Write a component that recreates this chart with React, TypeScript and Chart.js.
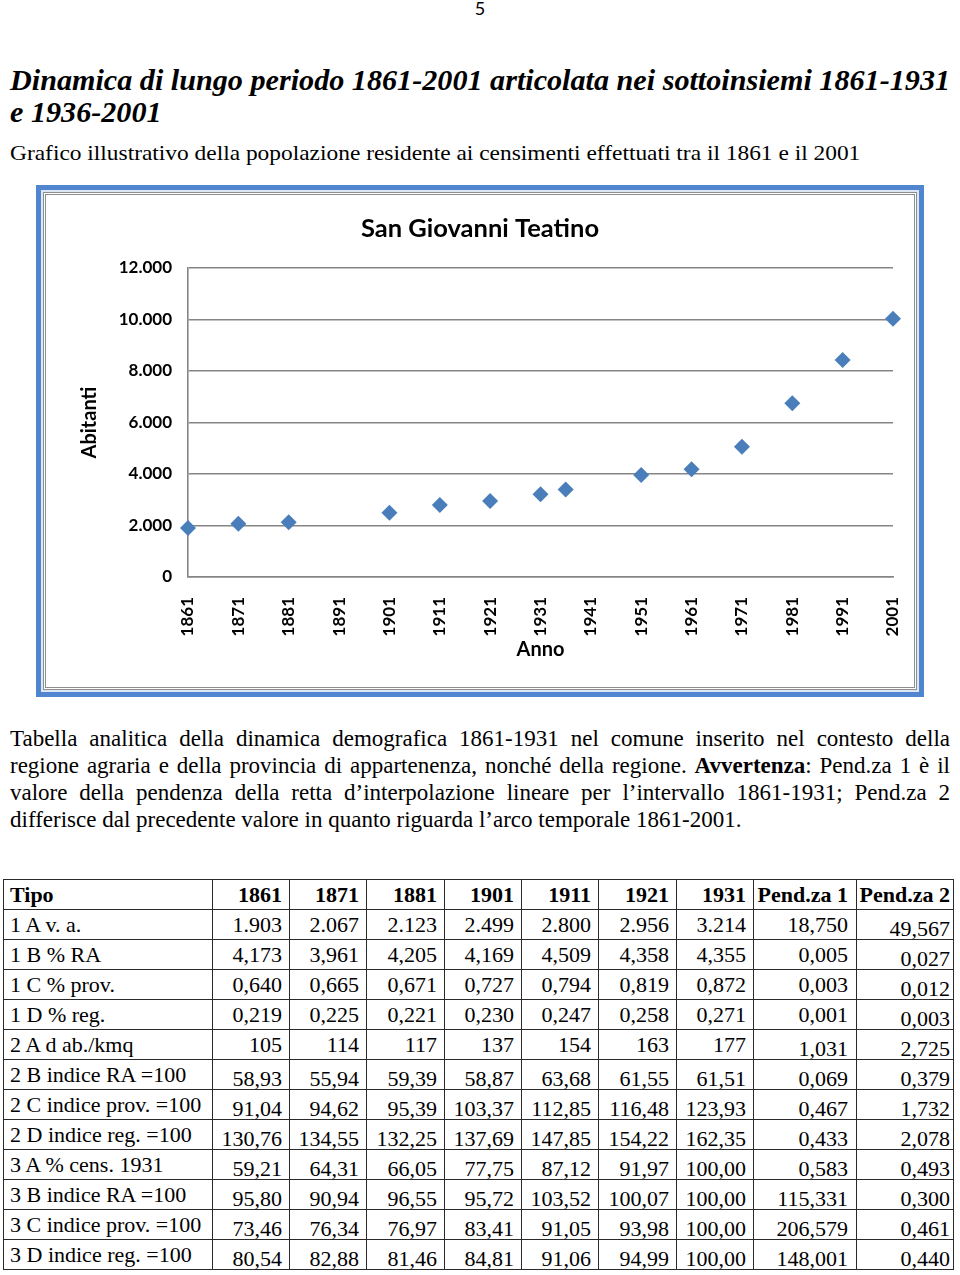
import React, { useEffect, useLayoutEffect, useRef, useState } from 'react';
import { Chart, registerables } from 'chart.js';

Chart.register(...registerables);

// ---------- chart data ----------
const censusYears = [1861, 1871, 1881, 1901, 1911, 1921, 1931, 1936, 1951, 1961, 1971, 1981, 1991, 2001];
const residents = [1903, 2067, 2123, 2499, 2800, 2956, 3214, 3400, 3960, 4180, 5060, 6750, 8430, 10030];
const xTickYears = [1861, 1871, 1881, 1891, 1901, 1911, 1921, 1931, 1941, 1951, 1961, 1971, 1981, 1991, 2001];
const yTickValues = [0, 2000, 4000, 6000, 8000, 10000, 12000];
const chartTitle = 'San Giovanni Teatino';
const xTitle = 'Anno';
const yTitle = 'Abitanti';

// ---------- table data ----------
const tableHeader = ['Tipo', '1861', '1871', '1881', '1901', '1911', '1921', '1931', 'Pend.za 1', 'Pend.za 2'];
const rowLabels = [
  '1 A v. a.', '1 B % RA', '1 C % prov.', '1 D % reg.', '2 A d ab./kmq',
  '2 B indice RA =100', '2 C indice prov. =100', '2 D indice reg. =100',
  '3 A % cens. 1931', '3 B indice RA =100', '3 C indice prov. =100', '3 D indice reg. =100',
];
const row1A = ['1.903', '2.067', '2.123', '2.499', '2.800', '2.956', '3.214', '18,750', '49,567'];
const row1B = ['4,173', '3,961', '4,205', '4,169', '4,509', '4,358', '4,355', '0,005', '0,027'];
const row1C = ['0,640', '0,665', '0,671', '0,727', '0,794', '0,819', '0,872', '0,003', '0,012'];
const row1D = ['0,219', '0,225', '0,221', '0,230', '0,247', '0,258', '0,271', '0,001', '0,003'];
const row2A = ['105', '114', '117', '137', '154', '163', '177', '1,031', '2,725'];
const row2B = ['58,93', '55,94', '59,39', '58,87', '63,68', '61,55', '61,51', '0,069', '0,379'];
const row2C = ['91,04', '94,62', '95,39', '103,37', '112,85', '116,48', '123,93', '0,467', '1,732'];
const row2D = ['130,76', '134,55', '132,25', '137,69', '147,85', '154,22', '162,35', '0,433', '2,078'];
const row3A = ['59,21', '64,31', '66,05', '77,75', '87,12', '91,97', '100,00', '0,583', '0,493'];
const row3B = ['95,80', '90,94', '96,55', '95,72', '103,52', '100,07', '100,00', '115,331', '0,300'];
const row3C = ['73,46', '76,34', '76,97', '83,41', '91,05', '93,98', '100,00', '206,579', '0,461'];
const row3D = ['80,54', '82,88', '81,46', '84,81', '91,06', '94,99', '100,00', '148,001', '0,440'];
const tableRows = [row1A, row1B, row1C, row1D, row2A, row2B, row2C, row2D, row3A, row3B, row3C, row3D];

// layout helpers (styling only)
const colWidths = [209, 77, 77, 78, 77, 77, 78, 77, 103, 97];
const colPadRight = [0, 7, 7, 7, 7, 7, 7, 7, 8, 3];
const lowFromCol = [9, 9, 9, 9, 8, 1, 1, 1, 1, 1, 1, 1];

const fmtIt = (v: number) => String(v).replace(/\B(?=(\d{3})+(?!\d))/g, '.');

const SERIF = '"Liberation Serif", "Times New Roman", serif';
const SANS = 'Lato, "Open Sans", sans-serif';

function ChartBox() {
  const ref = useRef<HTMLCanvasElement | null>(null);
  useEffect(() => {
    if (!ref.current) return;
    const tickFont = { family: SANS, size: 17, weight: 'bold' as const };
    const titleFont = { family: SANS, size: 20, weight: 'bold' as const };
    const chart = new Chart(ref.current, {
      type: 'scatter',
      data: {
        datasets: [
          {
            data: censusYears.map((x, i) => ({ x, y: residents[i] })),
            pointStyle: 'rectRot',
            pointRadius: 8,
            pointHoverRadius: 8,
            backgroundColor: '#4A7EBB',
            borderColor: '#4A7EBB',
            borderWidth: 0,
            showLine: false,
            clip: false,
          },
        ],
      },
      options: {
        animation: false,
        responsive: false,
        maintainAspectRatio: false,
        events: [],
        layout: { padding: 0 },
        plugins: {
          legend: { display: false },
          tooltip: { enabled: false },
          title: {
            display: true,
            text: chartTitle,
            color: '#000',
            font: { family: SANS, size: 25.5, weight: 'bold' },
            padding: { top: 18, bottom: 24.4 },
          },
        },
        scales: {
          x: {
            type: 'linear',
            min: 1861,
            max: 2001,
            afterBuildTicks: (s: any) => {
              s.ticks = xTickYears.map((v) => ({ value: v }));
            },
            afterFit: (s: any) => {
              s.height = 110;
              s.paddingLeft = 0;
              s.paddingRight = 21;
            },
            grid: { display: false, drawTicks: false },
            border: { display: true, color: '#858585', width: 1.6 },
            ticks: {
              autoSkip: false,
              minRotation: 90,
              maxRotation: 90,
              padding: 20,
              color: '#000',
              font: tickFont,
              callback: (v: any) => String(v),
            },
            title: {
              display: true,
              text: xTitle,
              color: '#000',
              font: titleFont,
              padding: { top: 0, bottom: 25 },
            },
          },
          y: {
            type: 'linear',
            min: 0,
            max: 12000,
            afterBuildTicks: (s: any) => {
              s.ticks = yTickValues.map((v) => ({ value: v }));
            },
            afterFit: (s: any) => {
              s.width = 142;
            },
            grid: { color: '#858585', lineWidth: 1.6, drawTicks: false },
            border: { display: true, color: '#858585', width: 1.6 },
            ticks: {
              padding: 16,
              color: '#000',
              font: tickFont,
              callback: (v: any) => fmtIt(Number(v)),
            },
            title: {
              display: true,
              text: yTitle,
              color: '#000',
              font: titleFont,
              padding: { top: 32, bottom: 0 },
            },
          },
        },
      },
    } as any);
    return () => chart.destroy();
  }, []);
  return <canvas ref={ref} width={868} height={492} style={{ display: 'block', width: 868, height: 492 }} />;
}

function FitLine(props: { text: React.ReactNode; target: number; style: React.CSSProperties; top: number; left: number; scaleOverride?: number; onScale?: (s: number) => void }) {
  const ref = useRef<HTMLDivElement | null>(null);
  const [scale, setScale] = useState(1);
  useLayoutEffect(() => {
    if (props.scaleOverride !== undefined) return;
    if (!ref.current) return;
    const w = ref.current.scrollWidth;
    if (w > 0) {
      const s = props.target / w;
      setScale(s);
      props.onScale && props.onScale(s);
    }
  }, []);
  const s = props.scaleOverride !== undefined ? props.scaleOverride : scale;
  return (
    <div
      ref={ref}
      style={{
        position: 'absolute',
        left: props.left,
        top: props.top,
        whiteSpace: 'nowrap',
        transformOrigin: 'left top',
        transform: `scaleX(${s})`,
        display: 'inline-block',
        ...props.style,
      }}
    >
      {props.text}
    </div>
  );
}

export default function App() {
  const [titleScale, setTitleScale] = useState<number>(1);
  const titleStyle: React.CSSProperties = {
    fontFamily: SERIF,
    fontWeight: 'bold',
    fontStyle: 'italic',
    fontSize: 30,
    lineHeight: '30px',
    color: '#000',
  };
  const bodyText: React.CSSProperties = {
    fontFamily: SERIF,
    fontSize: 23,
    lineHeight: '27px',
    color: '#000',
  };
  const paraLines: React.ReactNode[] = [
    'Tabella analitica della dinamica demografica 1861-1931 nel comune inserito nel contesto della',
    <>regione agraria e della provincia di appartenenza, nonché della regione. <b>Avvertenza</b>: Pend.za 1 è il</>,
    'valore della pendenza della retta d\u2019interpolazione lineare per l\u2019intervallo 1861-1931; Pend.za 2',
    'differisce dal precedente valore in quanto riguarda l\u2019arco temporale 1861-2001.',
  ];

  return (
    <div style={{ position: 'absolute', left: 0, top: 0, width: 960, height: 1275, overflow: 'hidden', background: '#fff' }}>
      {/* page number */}
      <div style={{ position: 'absolute', left: 0, top: -1, width: 960, textAlign: 'center', fontFamily: SANS, fontSize: 18, lineHeight: '18px' }}>5</div>

      {/* title */}
      <FitLine
        left={10}
        top={65}
        target={940}
        style={titleStyle}
        onScale={(s) => setTitleScale(s)}
        text="Dinamica di lungo periodo 1861-2001 articolata nei sottoinsiemi 1861-1931"
      />
      <FitLine left={10} top={97} target={152} style={titleStyle} scaleOverride={titleScale} text="e 1936-2001" />

      {/* subtitle */}
      <FitLine
        left={10}
        top={142}
        target={850}
        style={{ ...bodyText, fontSize: 22, lineHeight: '22px' }}
        text="Grafico illustrativo della popolazione residente ai censimenti effettuati tra il 1861 e il 2001"
      />

      {/* chart frame */}
      <div style={{ position: 'absolute', left: 36, top: 185, width: 888, height: 512, boxSizing: 'border-box', border: '5px solid #4F86CF' }}>
        <div style={{ width: '100%', height: '100%', boxSizing: 'border-box', border: '2px solid #DCE6F4' }}>
          <div style={{ width: '100%', height: '100%', boxSizing: 'border-box', border: '3px double #8E8E8E', background: '#fff' }}>
            <ChartBox />
          </div>
        </div>
      </div>

      {/* paragraph */}
      <div style={{ position: 'absolute', left: 10, top: 725, width: 940 }}>
        {paraLines.map((ln, i) => (
          <div
            key={i}
            style={{
              ...bodyText,
              textAlign: 'justify',
              textAlignLast: i < paraLines.length - 1 ? 'justify' : 'left',
              height: 27,
              whiteSpace: 'normal',
            }}
          >
            {ln}
          </div>
        ))}
      </div>

      {/* table */}
      <table
        style={{
          position: 'absolute',
          left: 3,
          top: 879,
          borderCollapse: 'collapse',
          tableLayout: 'fixed',
          width: 950,
          fontFamily: SERIF,
          fontSize: 22,
          color: '#000',
        }}
      >
        <colgroup>
          {colWidths.map((w, i) => (
            <col key={i} style={{ width: w }} />
          ))}
        </colgroup>
        <tbody>
          <tr style={{ height: 30 }}>
            {tableHeader.map((h, i) => (
              <td
                key={i}
                style={{
                  border: '1px solid #2a2a2a',
                  padding: 0,
                  paddingLeft: i === 0 ? 6 : 0,
                  paddingRight: colPadRight[i],
                  textAlign: i === 0 ? 'left' : 'right',
                  fontWeight: 'bold',
                  lineHeight: '24px',
                  whiteSpace: 'nowrap',
                  verticalAlign: 'middle',
                }}
              >
                {h}
              </td>
            ))}
          </tr>
          {tableRows.map((row, r) => (
            <tr key={r} style={{ height: 30 }}>
              {[rowLabels[r], ...row].map((c, i) => (
                <td
                  key={i}
                  style={{
                    border: '1px solid #2a2a2a',
                    padding: 0,
                    paddingLeft: i === 0 ? 6 : 0,
                    paddingRight: colPadRight[i],
                    textAlign: i === 0 ? 'left' : 'right',
                    lineHeight: '24px',
                    whiteSpace: 'nowrap',
                    verticalAlign: 'middle',
                  }}
                >
                  <span style={{ position: 'relative', top: i >= lowFromCol[r] ? 4 : 0 }}>{c}</span>
                </td>
              ))}
            </tr>
          ))}
        </tbody>
      </table>
    </div>
  );
}
